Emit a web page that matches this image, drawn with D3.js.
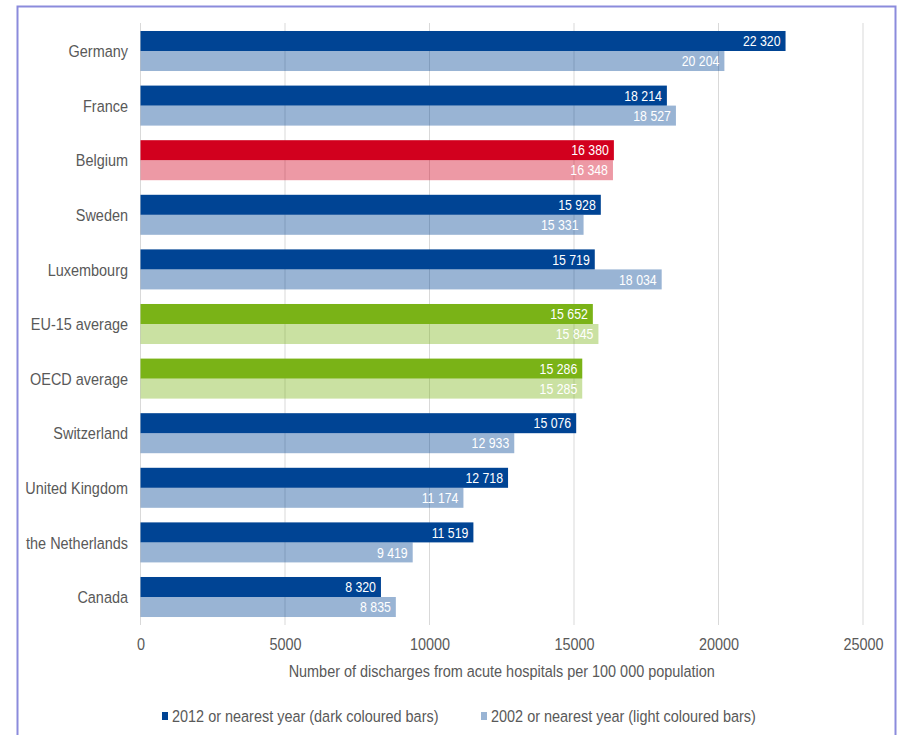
<!DOCTYPE html>
<html>
<head>
<meta charset="utf-8">
<script src="https://cdn.jsdelivr.net/npm/d3@7"></script>
<style>
  html, body { margin: 0; padding: 0; background: #fff; }
  svg { display: block; font-family: "Liberation Sans", Arial, sans-serif; }
</style>
</head>
<body>
<svg id="chart" width="900" height="735"></svg>
<script>
// Acute hospital discharges per 100 000 population
const countries = ["Germany", "France", "Belgium", "Sweden", "Luxembourg", "EU-15 average",
  "OECD average", "Switzerland", "United Kingdom", "the Netherlands", "Canada"];
const values2012 = [22320, 18214, 16380, 15928, 15719, 15652, 15286, 15076, 12718, 11519, 8320];
const values2002 = [20204, 18527, 16348, 15331, 18034, 15845, 15285, 12933, 11174, 9419, 8835];
const groupType = ["country", "country", "highlight", "country", "country", "average",
  "average", "country", "country", "country", "country"];
const xTicks = [0, 5000, 10000, 15000, 20000, 25000];
const seriesNames = ["2012 or nearest year (dark coloured bars)", "2002 or nearest year (light coloured bars)"];
const axisTitle = "Number of discharges from acute hospitals per 100 000 population";

const baseColor = { country: "#004494", highlight: "#d2001e", average: "#7ab317" };
const lightOpacity = 0.4;

const svg = d3.select("#chart");
const textColor = "#595959";
const fontSize = 17;
const narrow = 0.85; // horizontal squeeze for a condensed look

// place a text element at (x, y) with the condensed squeeze applied
const place = (sel, fx, fy) => sel.attr("transform", (d, i) => `translate(${fx(d, i)},${fy(d, i)}) scale(${narrow},1)`);

// outer frame
svg.append("rect")
  .attr("x", 17.5).attr("y", 6.5).attr("width", 878).attr("height", 740)
  .attr("fill", "none").attr("stroke", "#8b8bdc").attr("stroke-width", 2);

const x = d3.scaleLinear().domain([0, 25000]).range([140.5, 863]);
const y = d3.scaleBand().domain(countries).range([23.7, 624.3]).paddingInner(0.267).paddingOuter(0.1335);
const sub = d3.scaleBand().domain(["2012", "2002"]).range([0, y.bandwidth()]);

// vertical gridlines
svg.append("g").selectAll("line").data(xTicks).join("line")
  .attr("x1", d => x(d)).attr("x2", d => x(d))
  .attr("y1", 23).attr("y2", 625)
  .attr("stroke", "#d9d9d9").attr("stroke-width", 1);

const fmt = v => d3.format(",")(v).replace(/,/g, " ");

const rows = countries.map((c, i) => ({
  c, type: groupType[i],
  bars: [
    { key: "2012", v: values2012[i], op: 1 },
    { key: "2002", v: values2002[i], op: lightOpacity }
  ]
}));

const g = svg.append("g").selectAll("g").data(rows).join("g")
  .attr("transform", d => `translate(0,${y(d.c)})`);

g.selectAll("rect").data(d => d.bars.map(b => ({ ...b, type: d.type }))).join("rect")
  .attr("x", x(0))
  .attr("y", d => sub(d.key))
  .attr("width", d => x(d.v) - x(0))
  .attr("height", sub.bandwidth())
  .attr("fill", d => baseColor[d.type])
  .attr("fill-opacity", d => d.op);

g.selectAll("text.val").data(d => d.bars).join("text")
  .attr("class", "val")
  .call(place, d => x(d.v) - 5, d => sub(d.key) + sub.bandwidth() / 2)
  .attr("dy", "0.36em")
  .attr("text-anchor", "end")
  .attr("fill", "#fff")
  .attr("font-size", 14.5)
  .text(d => fmt(d.v));

// category labels
svg.append("g").selectAll("text").data(countries).join("text")
  .call(place, () => 128, d => y(d) + y.bandwidth() / 2)
  .attr("dy", "0.36em")
  .attr("text-anchor", "end")
  .attr("fill", textColor)
  .attr("font-size", fontSize)
  .text(d => d);

// x axis tick labels
const xAxis = d3.axisBottom(x).tickValues(xTicks).tickFormat(d3.format("d")).tickSize(0).tickPadding(0);
const ax = svg.append("g").attr("transform", "translate(0,638)").call(xAxis);
ax.select(".domain").remove();
ax.selectAll("text")
  .attr("fill", textColor).attr("font-size", fontSize)
  .attr("font-family", "Liberation Sans, Arial, sans-serif")
  .attr("transform", `scale(${narrow},1)`);

svg.append("text")
  .datum(axisTitle)
  .call(place, () => (x(0) + x(25000)) / 2, () => 677)
  .attr("text-anchor", "middle")
  .attr("fill", textColor)
  .attr("font-size", fontSize)
  .text(d => d);

// legend
const legendX = [162, 481];
const lg = svg.append("g").selectAll("g").data(seriesNames).join("g")
  .attr("transform", (d, i) => `translate(${legendX[i]},716)`);
lg.append("rect")
  .attr("x", 0).attr("y", -4).attr("width", 6).attr("height", 8)
  .attr("fill", baseColor.country)
  .attr("fill-opacity", (d, i) => i === 0 ? 1 : lightOpacity);
lg.append("text")
  .call(place, () => 10, () => 0)
  .attr("dy", "0.36em")
  .attr("fill", textColor)
  .attr("font-size", fontSize)
  .text(d => d);
</script>
</body>
</html>
